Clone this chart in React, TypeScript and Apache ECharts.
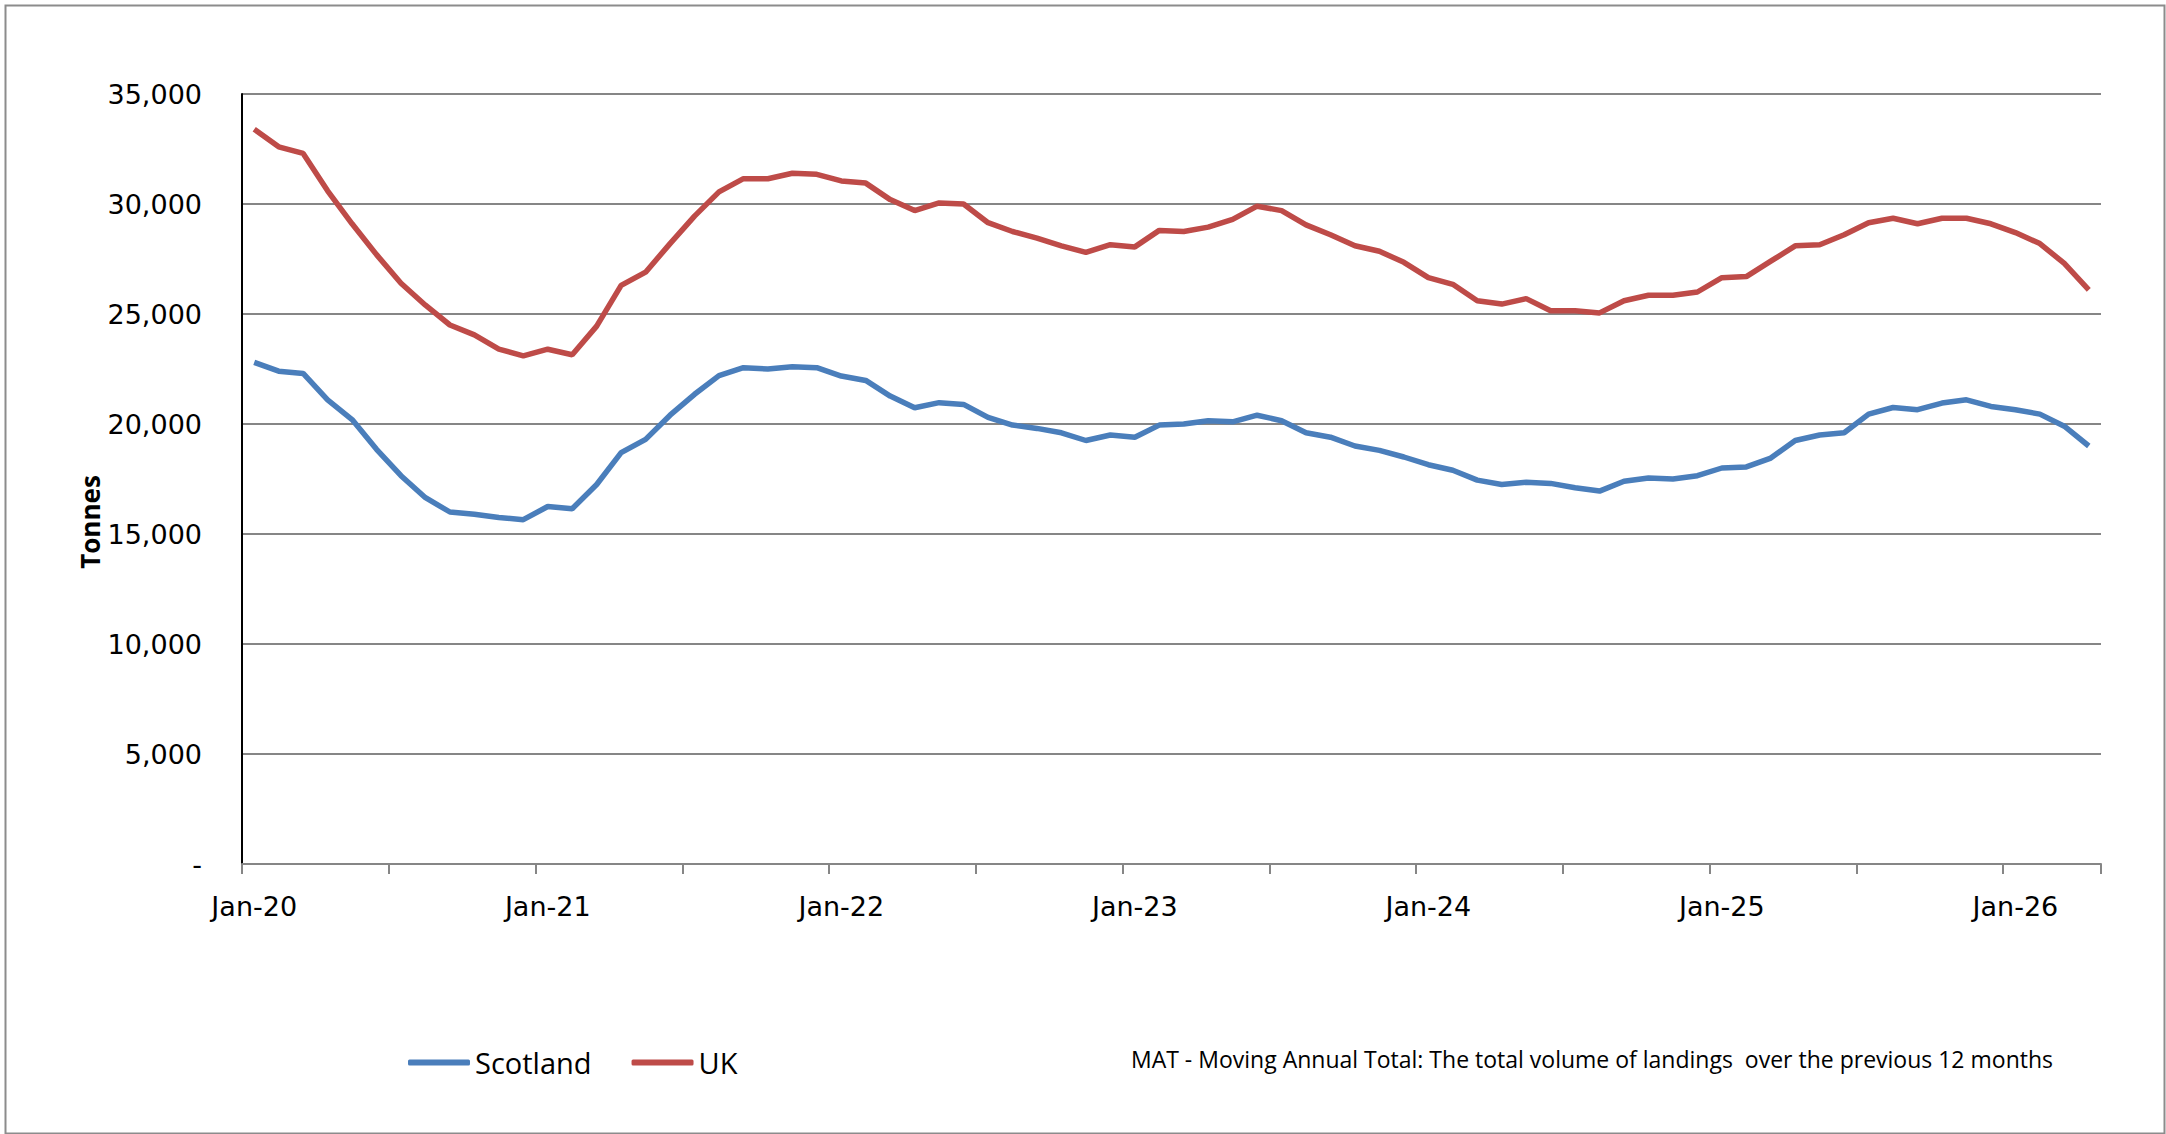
import React, { useEffect, useRef } from "react";
import * as echarts from "echarts";

const monthNames = ["Jan", "Feb", "Mar", "Apr", "May", "Jun", "Jul", "Aug", "Sep", "Oct", "Nov", "Dec"];
const years = ["20", "21", "22", "23", "24", "25", "26"];
const monthCount = 76;

const categories: string[] = [];
for (let i = 0; i < monthCount; i++) {
  categories.push(monthNames[i % 12] + "-" + years[Math.floor(i / 12)]);
}

const scotland = [
  22800, 22400, 22300, 21100, 20200, 18850, 17650, 16650, 16000, 15900, 15750, 15650,
  16250, 16150, 17250, 18700, 19300, 20400, 21350, 22200, 22560, 22500, 22600, 22560,
  22180, 21980, 21270, 20740, 20970, 20890, 20300, 19950, 19800, 19600, 19250, 19500,
  19400, 19950, 20000, 20150, 20100, 20400, 20150, 19600, 19400, 19000, 18800, 18500,
  18150, 17900, 17450, 17250, 17350, 17300, 17100, 16950, 17400, 17550, 17500, 17650,
  18000, 18050, 18450, 19250, 19500, 19600, 20450, 20750, 20650, 20950, 21100, 20800,
  20650, 20450, 19900, 19000,
];

const uk = [
  33400, 32600, 32300, 30600, 29100, 27700, 26400, 25400, 24500, 24050, 23400, 23100,
  23400, 23150, 24450, 26300, 26900, 28200, 29450, 30550, 31150, 31150, 31400, 31350,
  31050, 30950, 30200, 29700, 30050, 30000, 29150, 28750, 28450, 28100, 27800, 28150,
  28050, 28800, 28750, 28950, 29300, 29900, 29700, 29050, 28600, 28100, 27850, 27350,
  26650, 26350, 25600, 25450, 25700, 25150, 25150, 25050, 25600, 25850, 25850, 26000,
  26650, 26700, 27400, 28100, 28150, 28600, 29150, 29350, 29100, 29350, 29350, 29100,
  28700, 28200, 27300, 26100,
];

const FONT = "'Open Sans', 'DejaVu Sans', sans-serif";
const AXIS_FONT = "'DejaVu Sans', sans-serif";

function fmt(v: number): string {
  if (v === 0) return "-";
  return String(v).replace(/\B(?=(\d{3})+(?!\d))/g, ",");
}

export default function App() {
  const ref = useRef<HTMLDivElement>(null);
  useEffect(() => {
    if (!ref.current) return;
    const chart = echarts.init(ref.current, undefined, { renderer: "svg" });
    chart.setOption({
      animation: false,
      backgroundColor: "#ffffff",
      grid: { left: 242, top: 94, right: 65, bottom: 270, containLabel: false },
      legend: {
        left: 403,
        top: 1043,
        itemWidth: 62,
        itemHeight: 6,
        itemGap: 40,
        icon: "roundRect",
        textStyle: { fontFamily: FONT, fontSize: 29, color: "#000" },
        data: ["Scotland", "UK"],
      },
      xAxis: {
        type: "category",
        boundaryGap: true,
        data: categories,
        axisLine: { show: true, lineStyle: { color: "#868686", width: 2 } },
        axisTick: { show: true, interval: 5, length: 10, lineStyle: { color: "#868686", width: 2 } },
        axisLabel: { interval: 11, margin: 29, fontFamily: AXIS_FONT, fontSize: 27, color: "#000" },
        splitLine: { show: false },
      },
      yAxis: {
        type: "value",
        min: 0,
        max: 35000,
        interval: 5000,
        axisLine: { show: true, lineStyle: { color: "#000", width: 2 } },
        axisTick: { show: false },
        axisLabel: { margin: 40, fontFamily: AXIS_FONT, fontSize: 27, color: "#000", formatter: (v: number) => fmt(v) },
        splitLine: { show: true, lineStyle: { color: "#868686", width: 2 } },
      },
      series: [
        {
          name: "Scotland",
          type: "line",
          data: scotland,
          symbol: "none",
          lineStyle: { color: "#4A7EBB", width: 5.5 },
          itemStyle: { color: "#4A7EBB" },
          z: 3,
        },
        {
          name: "UK",
          type: "line",
          data: uk,
          symbol: "none",
          lineStyle: { color: "#BE4B48", width: 5.5 },
          itemStyle: { color: "#BE4B48" },
          z: 3,
        },
      ],
      graphic: [
        {
          type: "rect",
          left: 3,
          top: 3,
          shape: { width: 2159, height: 1128 },
          style: { fill: "none", stroke: "#8C8C8C", lineWidth: 2 },
          silent: true,
        },
        {
          type: "text",
          x: 90,
          y: 522,
          rotation: Math.PI / 2,
          style: {
            text: "Tonnes",
            fontFamily: FONT,
            fontSize: 26,
            fontWeight: "bold",
            fill: "#000",
            textAlign: "center",
            textVerticalAlign: "middle",
          },
        },
        {
          type: "text",
          x: 1131,
          y: 1059,
          style: {
            text: "MAT - Moving Annual Total: The total volume of landings  over the previous 12 months",
            fontFamily: FONT,
            fontSize: 23,
            fill: "#000",
            textAlign: "left",
            textVerticalAlign: "middle",
          },
        },
      ],
    });
    return () => chart.dispose();
  }, []);
  return (
    <div
      ref={ref}
      style={{ position: "absolute", left: 0, top: 0, width: 2166, height: 1134 }}
    />
  );
}
